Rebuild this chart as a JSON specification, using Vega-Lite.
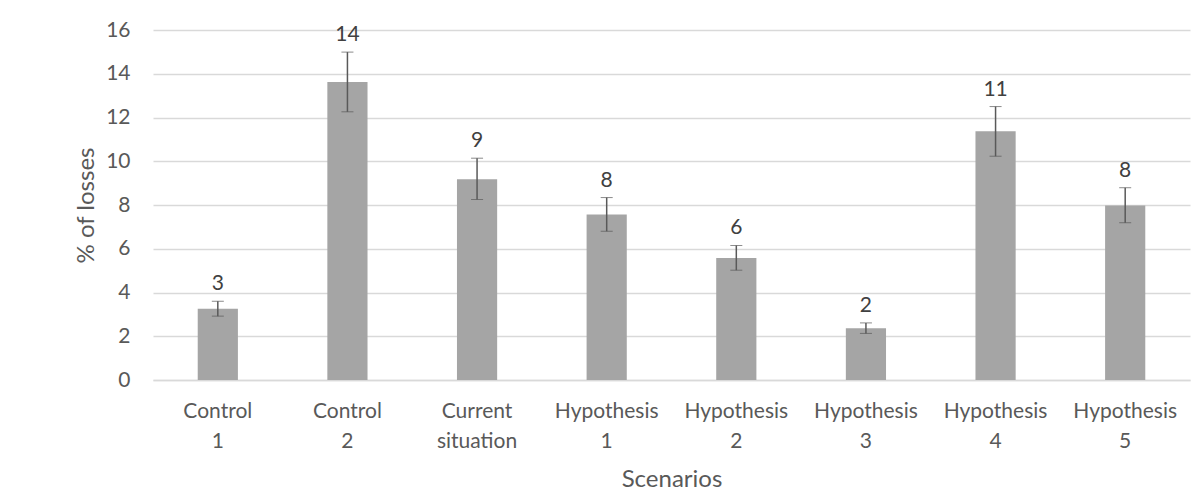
{
  "$schema": "https://vega.github.io/schema/vega-lite/v6.json",
  "width": 1037,
  "height": 350,
  "autosize": "none",
  "padding": {"left": 153, "top": 30, "right": 14, "bottom": 124},
  "background": "white",
  "config": {
    "view": {"stroke": null},
    "font": "Lato",
    "axis": {"labelFont": "Lato", "titleFont": "Lato", "labelColor": "#595959", "titleColor": "#595959", "labelFontSize": 21, "titleFontSize": 24, "titleFontWeight": "normal"}
  },
  "data": {
    "values": [
      {"scenario": "Control 1", "value": 3.26, "lo": 2.92, "hi": 3.60},
      {"scenario": "Control 2", "value": 13.62, "lo": 12.26, "hi": 14.99},
      {"scenario": "Current situation", "value": 9.18, "lo": 8.25, "hi": 10.14},
      {"scenario": "Hypothesis 1", "value": 7.57, "lo": 6.80, "hi": 8.34},
      {"scenario": "Hypothesis 2", "value": 5.58, "lo": 5.02, "hi": 6.15},
      {"scenario": "Hypothesis 3", "value": 2.37, "lo": 2.13, "hi": 2.61},
      {"scenario": "Hypothesis 4", "value": 11.37, "lo": 10.23, "hi": 12.50},
      {"scenario": "Hypothesis 5", "value": 7.98, "lo": 7.19, "hi": 8.79}
    ]
  },
  "encoding": {
    "x": {
      "field": "scenario",
      "type": "nominal",
      "sort": null,
      "scale": {"paddingInner": 0.69, "paddingOuter": 0.345},
      "axis": {
        "title": "Scenarios",
        "labelAngle": 0,
        "labelExpr": "split(datum.label, ' ')",
        "labelLineHeight": 30,
        "labelPadding": 20,
        "labelBaseline": "top",
        "ticks": false,
        "domainColor": "#D9D9D9",
        "domainWidth": 1.5,
        "titlePadding": 16
      }
    }
  },
  "layer": [
    {
      "mark": {"type": "bar", "color": "#A5A5A5"},
      "encoding": {
        "y": {
          "field": "value",
          "type": "quantitative",
          "scale": {"domain": [0, 16]},
          "axis": {
            "title": "% of losses",
            "values": [0, 2, 4, 6, 8, 10, 12, 14, 16],
            "labelOverlap": false,
            "grid": true,
            "gridColor": "#D9D9D9",
            "gridWidth": 1.5,
            "domain": false,
            "ticks": false,
            "labelPadding": 23,
            "titlePadding": 7
          }
        }
      }
    },
    {
      "mark": {"type": "errorbar", "ticks": {"size": 12, "color": "#595959", "strokeWidth": 1.5}, "rule": {"color": "#595959", "strokeWidth": 1.5}},
      "encoding": {
        "y": {
          "field": "lo",
          "type": "quantitative",
          "axis": {
            "title": "% of losses",
            "values": [0, 2, 4, 6, 8, 10, 12, 14, 16],
            "labelOverlap": false,
            "grid": true,
            "gridColor": "#D9D9D9",
            "gridWidth": 1.5,
            "domain": false,
            "ticks": false,
            "labelPadding": 23,
            "titlePadding": 7
          }
        },
        "y2": {"field": "hi"}
      }
    },
    {
      "mark": {"type": "text", "baseline": "alphabetic", "dy": -11, "fontSize": 21, "color": "#404040", "font": "Lato"},
      "encoding": {
        "y": {
          "field": "hi",
          "type": "quantitative",
          "axis": {
            "title": "% of losses",
            "values": [0, 2, 4, 6, 8, 10, 12, 14, 16],
            "labelOverlap": false,
            "grid": true,
            "gridColor": "#D9D9D9",
            "gridWidth": 1.5,
            "domain": false,
            "ticks": false,
            "labelPadding": 23,
            "titlePadding": 7
          }
        },
        "text": {"field": "value", "type": "quantitative", "format": ".0f"}
      }
    }
  ]
}
